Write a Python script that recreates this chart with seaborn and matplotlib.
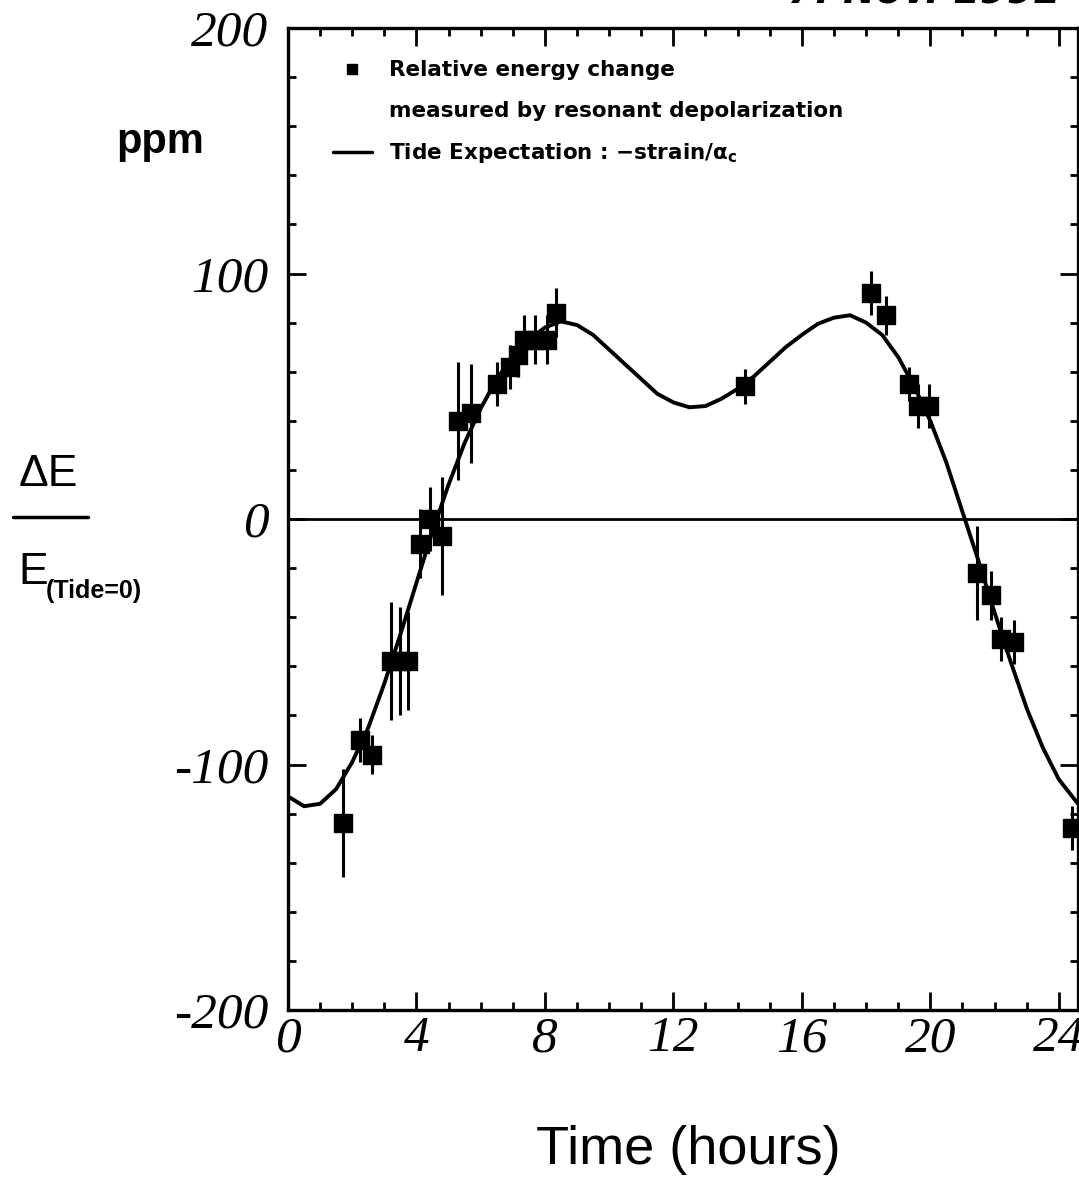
import numpy as np
import matplotlib
matplotlib.use("Agg")
import matplotlib.pyplot as plt
from matplotlib.lines import Line2D
from matplotlib.ticker import MultipleLocator
import seaborn as sns
import pandas as pd

# measured points (hours, ppm, error)
time_pts = [1.72, 2.25, 2.62, 3.2, 3.5, 3.75, 4.12, 4.43, 4.8, 5.3, 5.7, 6.5, 6.9,
            7.15, 7.35, 7.7, 8.05, 8.33, 14.23, 18.16, 18.63, 19.35, 19.62, 19.97,
            21.44, 21.9, 22.2, 22.6, 24.4]
de_pts = [-124, -90, -96, -58, -58, -58, -10, 0, -7, 40, 43, 55, 62,
          67, 73, 73, 73, 84, 54, 92, 83, 55, 46, 46,
          -22, -31, -49, -50, -126]
de_err = [22, 9, 8, 24, 22, 20, 14, 13, 24, 24, 20, 9, 9,
          9, 10, 10, 10, 10, 7, 9, 8, 7, 9, 9,
          19, 10, 9, 9, 9]

# tide expectation curve
curve_t = [0, 0.5, 1.0, 1.5, 2.0, 2.5, 3.0, 3.5, 4.0, 4.5, 5.0, 5.5, 6.0, 6.5, 7.0,
           7.5, 8.0, 8.5, 9.0, 9.5, 10.0, 10.5, 11.0, 11.5, 12.0, 12.5, 13.0, 13.5,
           14.0, 14.5, 15.0, 15.5, 16.0, 16.5, 17.0, 17.5, 18.0, 18.5, 19.0, 19.5,
           20.0, 20.5, 21.0, 21.5, 22.0, 22.5, 23.0, 23.5, 24.0, 24.6]
curve_de = [-113, -117, -116, -110, -99, -85, -67, -47, -26, -5, 14, 31, 45, 57, 66,
            73, 78, 80.5, 79, 75, 69, 63, 57, 51, 47.5, 45.5, 46, 49,
            53, 58, 64, 70, 75, 79.5, 82, 83, 80, 75, 66, 54,
            40, 23, 3, -17, -38, -58, -77, -93, -106, -116]

xticks = [0, 4, 8, 12, 16, 20, 24]
yticks = [-200, -100, 0, 100, 200]

pts = pd.DataFrame({"t": time_pts, "de": de_pts, "err": de_err})
curve = pd.DataFrame({"t": curve_t, "de": curve_de})

sns.set_style("ticks")
plt.rcParams["font.family"] = ["DejaVu Sans"]
plt.rcParams["axes.unicode_minus"] = False
plt.rcParams["text.color"] = "black"
plt.rcParams["xtick.color"] = "black"
plt.rcParams["ytick.color"] = "black"
plt.rcParams["axes.edgecolor"] = "black"

fig = plt.figure(figsize=(10.79, 11.85), dpi=100)
ax = fig.add_axes([288 / 1079, 1 - 1010 / 1185, 790 / 1079, 982 / 1185])

sns.lineplot(data=curve, x="t", y="de", ax=ax, color="black", lw=2.8, sort=True)
ax.errorbar(pts["t"], pts["de"], yerr=pts["err"], fmt="none", ecolor="black",
            elinewidth=2.2, capsize=0)
sns.scatterplot(data=pts, x="t", y="de", ax=ax, marker="s", s=150, color="black",
                edgecolor="black", zorder=5)
ax.axhline(0, color="black", lw=2)

ax.set_xlim(0, 24.6)
ax.set_ylim(-200, 200)
ax.set_xticks(xticks)
ax.set_yticks(yticks)
ax.xaxis.set_minor_locator(MultipleLocator(1))
ax.yaxis.set_minor_locator(MultipleLocator(20))
ax.tick_params(which="both", direction="in", top=True, right=True, width=2, color="black")
ax.tick_params(which="major", length=13)
ax.tick_params(which="minor", length=6)
ax.tick_params(axis="y", pad=14)
ax.tick_params(axis="x", pad=4)
for lab in ax.get_xticklabels() + ax.get_yticklabels():
    lab.set_fontfamily("Liberation Serif")
    lab.set_fontstyle("italic")
    lab.set_fontsize(37)
    lab.set_color("black")
for s in ax.spines.values():
    s.set_linewidth(2.4)
    s.set_color("black")
ax.set_xlabel("")
ax.set_ylabel("")

# legend
handles = [
    Line2D([], [], marker="s", color="black", ls="none", markersize=7),
    Line2D([], [], ls="none"),
    Line2D([], [], color="black", lw=2.5),
]
labels = ["Relative energy change", "measured by resonant depolarization",
          "Tide Expectation : \u2212strain/\u03b1$_{\\mathbf{c}}$"]
leg = ax.legend(handles, labels, loc="upper left", bbox_to_anchor=(34 / 790, 0.978),
                frameon=False, borderpad=0, handlelength=1.8, handletextpad=0.8,
                labelspacing=0.95, prop={"weight": "bold", "size": 15.5})
for t in leg.get_texts():
    t.set_color("black")

# labels
fig.text(688 / 1079, 1 - 1150 / 1185, "Time (hours)", family="Liberation Sans",
         fontsize=39, ha="center", va="center")
fig.text(160 / 1079, 1 - 142 / 1185, "ppm", family="Liberation Sans", fontsize=30,
         fontweight="bold", ha="center", va="center")
fig.text(48 / 1079, 1 - 474 / 1185, "\u0394E", family="Liberation Sans", fontsize=32,
         ha="center", va="center")
fig.add_artist(Line2D([13 / 1079, 88 / 1079], [1 - 517 / 1185, 1 - 517 / 1185],
                      color="black", lw=2.5, transform=fig.transFigure))
fig.text(18 / 1079, 1 - 584 / 1185, "E", family="Liberation Sans", fontsize=32,
         ha="left", va="baseline")
fig.text(46 / 1079, 1 - 598 / 1185, "(Tide=0)", family="Liberation Sans", fontsize=18,
         fontweight="bold", ha="left", va="baseline")
fig.text(925 / 1079, 1 - 4 / 1185, "7. Nov. 1992", fontsize=28, fontweight="bold",
         fontstyle="italic", ha="center", va="baseline")

fig.savefig("out.png", dpi=100, facecolor="white")
